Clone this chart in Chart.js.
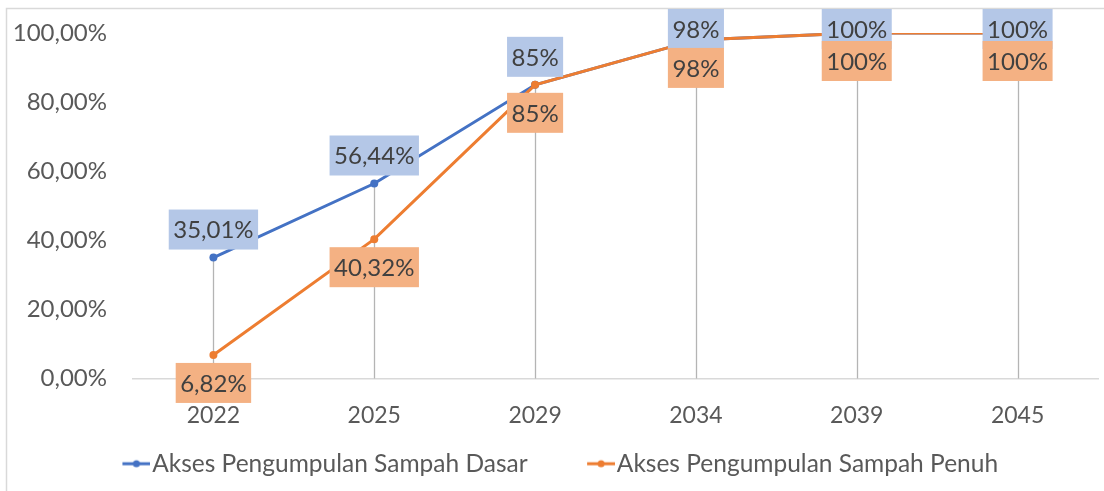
<!DOCTYPE html>
<html>
<head>
<meta charset="utf-8">
<script src="https://cdn.jsdelivr.net/npm/chart.js"></script>
<style>
    html, body { margin: 0; padding: 0; background: #fff; }
    #wrap { position: relative; width: 1104px; height: 491px; }
</style>
</head>
<body>
<div id="wrap"><canvas id="aksesSampah"></canvas></div>
<script>
const tahun = ['2022', '2025', '2029', '2034', '2039', '2045'];
const aksesDasar = [35.01, 56.44, 85, 98, 100, 100];
const aksesPenuh = [6.82, 40.32, 85, 98, 100, 100];
const labelDasar = ['35,01%', '56,44%', '85%', '98%', '100%', '100%'];
const labelPenuh = ['6,82%', '40,32%', '85%', '98%', '100%', '100%'];
const yTicks = [0, 20, 40, 60, 80, 100];

const biru = '#4472c4';
const oranye = '#ed7d31';

// bingkai tipis kiri dan atas
const bingkai = {
    id: 'bingkai',
    beforeDraw(chart) {
        const ctx = chart.ctx;
        ctx.save();
        ctx.fillStyle = '#fff';
        ctx.fillRect(0, 0, chart.width, chart.height);
        ctx.strokeStyle = '#d9d9d9';
        ctx.lineWidth = 1.5;
        ctx.beginPath();
        ctx.moveTo(6.5, chart.height);
        ctx.lineTo(6.5, 8.5);
        ctx.lineTo(chart.width, 8.5);
        ctx.stroke();
        ctx.restore();
    }
};

// garis jatuh dari titik tertinggi ke sumbu
const garisJatuh = {
    id: 'garisJatuh',
    beforeDatasetsDraw(chart) {
        const {ctx, scales: {x, y}} = chart;
        ctx.save();
        ctx.strokeStyle = '#b4b4b4';
        ctx.lineWidth = 1.3;
        tahun.forEach((t, i) => {
            const puncak = Math.max(aksesDasar[i], aksesPenuh[i]);
            const px = Math.round(x.getPixelForValue(i)) + 0.5;
            ctx.beginPath();
            ctx.moveTo(px, y.getPixelForValue(puncak));
            ctx.lineTo(px, y.getPixelForValue(0));
            ctx.stroke();
        });
        ctx.restore();
    }
};

// label data dengan kotak berwarna
const labelKotak = {
    id: 'labelKotak',
    afterDatasetsDraw(chart) {
        const {ctx, scales: {x, y}} = chart;
        ctx.save();
        ctx.font = '24px Lato';
        ctx.textAlign = 'center';
        ctx.textBaseline = 'middle';
        const gambar = (teks, px, top, warna) => {
            const w = ctx.measureText(teks).width + 9;
            ctx.fillStyle = warna;
            ctx.fillRect(px - w / 2, top, w, 40);
            ctx.fillStyle = '#404040';
            ctx.fillText(teks, px, top + 21);
        };
        aksesDasar.forEach((v, i) => {
            const top = Math.max(9, y.getPixelForValue(v) - 8 - 40);
            gambar(labelDasar[i], x.getPixelForValue(i), top, '#b4c7e7');
        });
        aksesPenuh.forEach((v, i) => {
            gambar(labelPenuh[i], x.getPixelForValue(i), y.getPixelForValue(v) + 8, '#f4b183');
        });
        ctx.restore();
    }
};

// simbol legenda: garis pendek dengan titik
function penanda(warna) {
    const c = document.createElement('canvas');
    c.width = 88;
    c.height = 10;
    const g = c.getContext('2d');
    g.strokeStyle = warna;
    g.lineWidth = 3;
    g.beginPath();
    g.moveTo(60, 5);
    g.lineTo(88, 5);
    g.stroke();
    g.fillStyle = warna;
    g.beginPath();
    g.arc(74, 5, 3.5, 0, Math.PI * 2);
    g.fill();
    return c;
}

Chart.defaults.font.family = 'Lato';

const ctx = document.getElementById('aksesSampah');

new Chart(ctx, {
    type: 'line',
    data: {
        labels: tahun,
        datasets: [{
            label: 'Akses Pengumpulan Sampah Dasar',
            data: aksesDasar,
            borderColor: biru,
            backgroundColor: biru,
            borderWidth: 3,
            pointRadius: 4,
            pointBorderWidth: 0,
            order: 1,
        }, {
            label: 'Akses Pengumpulan Sampah Penuh',
            data: aksesPenuh,
            borderColor: oranye,
            backgroundColor: oranye,
            borderWidth: 3,
            pointRadius: 4,
            pointBorderWidth: 0,
            order: 0,
        }]
    },
    options: {
        responsive: true,
        maintainAspectRatio: false,
        animation: false,
        layout: {
            padding: {top: 33, right: 6, left: -27, bottom: 5}
        },
        scales: {
            x: {
                offset: true,
                grid: {display: false, drawTicks: false},
                border: {color: '#d9d9d9', width: 1.5},
                ticks: {color: '#595959', font: {size: 23}, padding: 23},
                afterFit(scale) { scale.height = 63; }
            },
            y: {
                min: 0,
                max: 100,
                // jarak label lewat tickLength supaya padding atas tidak membesar
                grid: {display: false, drawTicks: true, tickLength: 24},
                border: {display: false},
                afterBuildTicks(scale) {
                    scale.ticks = yTicks.map(v => ({value: v}));
                },
                ticks: {
                    color: '#595959',
                    font: {size: 24},
                    padding: 2,
                    callback: v => v.toFixed(2).replace('.', ',') + '%'
                },
                afterFit(scale) { scale.width = 160; }
            }
        },
        plugins: {
            tooltip: {enabled: false},
            legend: {
                position: 'bottom',
                labels: {
                    usePointStyle: true,
                    pointStyleWidth: 67,
                    padding: 10,
                    color: '#595959',
                    font: {size: 24.5},
                    generateLabels(chart) {
                        return chart.data.datasets.map((ds, i) => ({
                            text: ds.label,
                            pointStyle: penanda(ds.borderColor),
                            fillStyle: ds.borderColor,
                            strokeStyle: ds.borderColor,
                            lineWidth: 0,
                            hidden: false,
                            datasetIndex: i,
                            fontColor: '#595959'
                        }));
                    }
                }
            }
        }
    },
    plugins: [bingkai, garisJatuh, labelKotak]
});
</script>
</body>
</html>
